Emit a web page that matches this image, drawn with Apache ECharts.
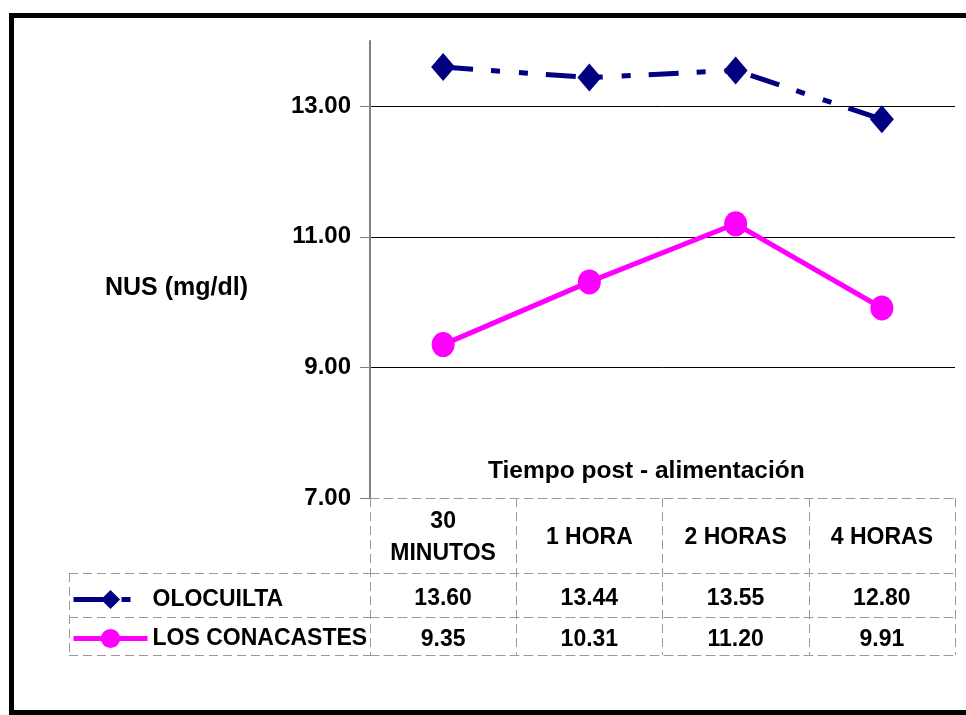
<!DOCTYPE html>
<html>
<head>
<meta charset="utf-8">
<script src="https://cdn.jsdelivr.net/npm/echarts@6/dist/echarts.min.js"></script>
<style>
  html, body { margin: 0; padding: 0; background: #fff; }
  #chart { width: 966px; height: 715px; }
</style>
</head>
<body>
<div id="chart"></div>
<script>
// Time points after feeding
const categories = ['30\nMINUTOS', '1 HORA', '2 HORAS', '4 HORAS'];
// Blood urea nitrogen (mg/dl) per farm
const olocuilta = [13.60, 13.44, 13.55, 12.80];
const losConacastes = [9.35, 10.31, 11.20, 9.91];
// Value axis ticks
const yTicks = [7, 9, 11, 13];

const FONT = '"Liberation Sans", Arial, sans-serif';
const GRID_LEFT = 370, GRID_TOP = 41, GRID_BOTTOM = 217, GRID_RIGHT = 11;
const TABLE_GRAY = '#9a9a9a';
const DASH = [9, 5];

const boldText = (size) => ({ fontFamily: FONT, fontWeight: 'bold', fontSize: size, color: '#000' });

// Rows of the data table are drawn as extra category axes under the plot
function tableAxis(offset, values, margin) {
  return {
    type: 'category',
    data: categories,
    position: 'bottom',
    offset: offset,
    boundaryGap: true,
    axisLine: { show: true, lineStyle: { color: TABLE_GRAY, width: 1, type: DASH } },
    axisTick: { show: false },
    splitLine: { show: false },
    axisLabel: values ? {
      show: true, interval: 0, margin: margin,
      formatter: (v, i) => values[i].toFixed(2),
      ...boldText(23)
    } : { show: false }
  };
}

const chart = echarts.init(document.getElementById('chart'), null, { renderer: 'canvas' });

const option = {
  backgroundColor: '#fff',
  animation: false,
  grid: { left: GRID_LEFT, right: GRID_RIGHT, top: GRID_TOP, bottom: GRID_BOTTOM, containLabel: false },
  legend: {
    orient: 'vertical',
    left: 66,
    top: 583,
    itemWidth: 74,
    itemHeight: 24,
    itemGap: 16,
    selectedMode: false,
    lineStyle: { width: 5 },
    textStyle: boldText(23),
    data: ['OLOCUILTA', 'LOS CONACASTES']
  },
  xAxis: [
    {
      type: 'category',
      data: categories,
      position: 'bottom',
      boundaryGap: true,
      axisLine: { show: true, lineStyle: { color: TABLE_GRAY, width: 1, type: DASH } },
      axisTick: { show: true, length: 157, alignWithLabel: false, lineStyle: { color: TABLE_GRAY, width: 1, type: DASH } },
      axisLabel: { show: true, interval: 0, margin: 40, verticalAlign: 'middle', lineHeight: 32, ...boldText(23) },
      splitLine: { show: false }
    },
    tableAxis(75, olocuilta, 14),
    tableAxis(119, losConacastes, 11),
    tableAxis(157, null, 0)
  ],
  yAxis: {
    type: 'value',
    min: 7,
    max: 14,
    interval: 2,
    axisLine: { show: true, lineStyle: { color: '#808080', width: 2 } },
    axisTick: { show: true, length: 10, lineStyle: { color: '#808080', width: 1 }, customValues: yTicks },
    axisLabel: {
      show: true, margin: 19, customValues: yTicks,
      formatter: (v) => (v >= 14 ? '' : v.toFixed(2)),
      ...boldText(24)
    },
    splitLine: { show: true, showMinLine: false, showMaxLine: true, lineStyle: { color: '#000', width: 1 } }
  },
  series: [
    {
      name: 'OLOCUILTA',
      type: 'line',
      xAxisIndex: 0,
      data: olocuilta,
      symbol: 'diamond',
      symbolSize: [24, 28],
      itemStyle: { color: '#000080' },
      lineStyle: { color: '#000080', width: 5, type: [30, 18, 9, 19, 9, 18] },
      z: 3
    },
    {
      name: 'LOS CONACASTES',
      type: 'line',
      xAxisIndex: 0,
      data: losConacastes,
      symbol: 'circle',
      symbolSize: [23, 25],
      itemStyle: { color: '#FF00FF' },
      lineStyle: { color: '#FF00FF', width: 5, type: 'solid' },
      z: 3
    }
  ],
  graphic: [
    // outer frame
    { type: 'rect', silent: true, z: 100,
      shape: { x: 11.5, y: 15.5, width: 1000, height: 697 },
      style: { fill: null, stroke: '#000', lineWidth: 5 } },
    // series-name column of the data table
    { type: 'line', silent: true, shape: { x1: 69, y1: 573.5, x2: 370, y2: 573.5 }, style: { stroke: TABLE_GRAY, lineWidth: 1, lineDash: DASH } },
    { type: 'line', silent: true, shape: { x1: 69, y1: 617.5, x2: 370, y2: 617.5 }, style: { stroke: TABLE_GRAY, lineWidth: 1, lineDash: DASH } },
    { type: 'line', silent: true, shape: { x1: 69, y1: 655.5, x2: 370, y2: 655.5 }, style: { stroke: TABLE_GRAY, lineWidth: 1, lineDash: DASH } },
    { type: 'line', silent: true, shape: { x1: 69.5, y1: 573, x2: 69.5, y2: 655 }, style: { stroke: TABLE_GRAY, lineWidth: 1, lineDash: DASH } },
    // axis titles
    { type: 'text', silent: true, left: 105, top: 276,
      style: { text: 'NUS (mg/dl)', font: 'bold 25px ' + FONT, fill: '#000' } },
    { type: 'text', silent: true, left: 488, top: 459,
      style: { text: 'Tiempo post - alimentación', font: 'bold 24.5px ' + FONT, fill: '#000' } }
  ]
};

chart.setOption(option);
</script>
</body>
</html>
